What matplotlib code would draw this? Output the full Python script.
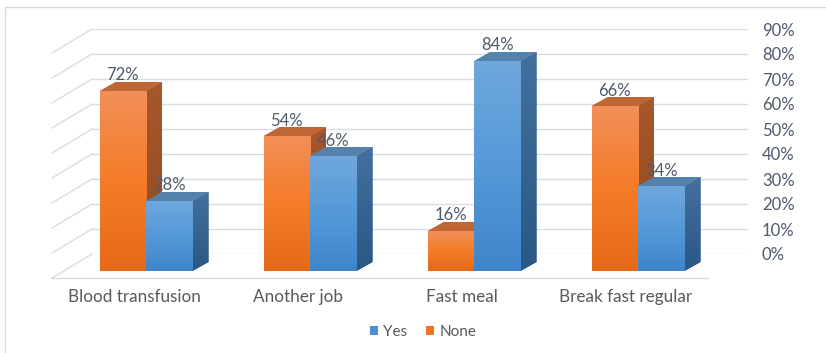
import numpy as np
import matplotlib
matplotlib.use("Agg")
import matplotlib.pyplot as plt
from matplotlib.patches import Rectangle, Polygon, Patch
from matplotlib.lines import Line2D
from matplotlib.transforms import ScaledTranslation
from matplotlib.colors import LinearSegmentedColormap

# ---- data ----
categories = ["Blood transfusion", "Another job", "Fast meal", "Break fast regular"]
none_vals = [72, 54, 16, 66]
yes_vals = [28, 46, 84, 34]
yticks = [0, 10, 20, 30, 40, 50, 60, 70, 80, 90]
series_names = ["Yes", "None"]

plt.rcParams['font.family'] = ['Lato', 'DejaVu Sans']
TXT = '#595959'
LBL = '#4F5A6B'

W, H = 826, 353
fig = plt.figure(figsize=(W / 100, H / 100), dpi=100)
fig.patch.set_facecolor('white')

def fx(px):
    return px / W

def fy(py_top):
    return (H - py_top) / H

# ---- back wall axes (gridlines + right tick labels) ----
bl, br, bb, bt = 92, 748, 254, 29
axb = fig.add_axes([fx(bl), fy(bb), fx(br - bl), (bb - bt) / H])
axb.set_xlim(0, 1)
axb.set_ylim(0, 90)
axb.set_yticks(yticks)
axb.set_yticklabels([f"{t}%" for t in yticks])
axb.yaxis.tick_right()
axb.tick_params(axis='y', length=0, pad=10, labelsize=12, labelcolor=LBL)
axb.set_xticks([])
axb.grid(axis='y', color='#D9DDE3', lw=1.0)
for s in axb.spines.values():
    s.set_visible(False)
axb.patch.set_alpha(0)

# ---- front axes (bars) ----
gc0, gsp = 146, 164  # group center px / spacing px
base_py = 271
axf = fig.add_axes([fx(gc0 - 0.5 * gsp), fy(base_py), fx(4 * gsp), (base_py - bt + 17) / H])
axf.set_xlim(-0.5, 3.5)
axf.set_ylim(0, (base_py - bt + 17) / 2.5)
axf.axis('off')
axf.patch.set_alpha(0)

fig.canvas.draw()

# diagonal (left wall) lines and floor front edge, in display pixels
ddx, ddy = -40, -24
for t in yticks:
    p = axb.transData.transform((0, t))
    fig.add_artist(Line2D([p[0], p[0] + ddx], [p[1], p[1] + ddy], transform=None,
                          color='#D9DDE3', lw=1.0))
p0 = axb.transData.transform((0, 0))
p1 = axb.transData.transform((1, 0))
fig.add_artist(Line2D([p0[0] + ddx, p1[0] + ddx], [p0[1] + ddy, p1[1] + ddy], transform=None,
                      color='#D9DDE3', lw=1.0))

# depth offset of bars, in data units
px_x = (axf.transData.transform((1, 0))[0] - axf.transData.transform((0, 0))[0])
px_y = (axf.transData.transform((0, 1))[1] - axf.transData.transform((0, 0))[1])
dx, dy = 16 / px_x, 9 / px_y

bw = 46.5 / gsp
orange = dict(cmap=LinearSegmentedColormap.from_list('o', ['#E56A18', '#F47C28', '#F28F58']),
              side=['#8E4A1F', '#A8582B'], top='#BF6734')
blue = dict(cmap=LinearSegmentedColormap.from_list('b', ['#3E85CA', '#5599D8', '#6FA7DD']),
            side=['#2A5885', '#43709C'], top='#5581AD')

grad = np.linspace(0, 1, 64).reshape(-1, 1)

def draw_bar(x0, v, st, z):
    x1 = x0 + bw
    side = Polygon([(x1, 0), (x1 + dx, dy), (x1 + dx, v + dy), (x1, v)], closed=True,
                   facecolor=st['side'][0], edgecolor='none', zorder=z)
    axf.add_patch(side)
    sg = axf.imshow(grad, cmap=LinearSegmentedColormap.from_list('s', st['side']),
                    extent=[x1, x1 + dx, 0, v + dy], origin='lower', aspect='auto', zorder=z)
    sg.set_clip_path(side)
    top = Polygon([(x0, v), (x0 + dx, v + dy), (x1 + dx, v + dy), (x1, v)], closed=True,
                  facecolor=st['top'], edgecolor='none', zorder=z)
    axf.add_patch(top)
    bars = axf.bar([x0], [v], width=bw, align='edge', color=st['cmap'](0.5), edgecolor='none',
                   zorder=z + 0.1)
    rect = bars[0]
    im = axf.imshow(grad, cmap=st['cmap'], extent=[x0, x1, 0, v], origin='lower',
                    aspect='auto', zorder=z + 0.2)
    im.set_clip_path(rect)
    axf.text(x0 + bw / 2, v + dy + 0.6, f"{v}%", ha='center', va='baseline',
             fontsize=12, color=LBL, zorder=50)

for i, (nv, yv) in enumerate(zip(none_vals, yes_vals)):
    draw_bar(i - bw, nv, orange, 2 + i)
    draw_bar(i, yv, blue, 2.5 + i)

axf.set_xlim(-0.5, 3.5)
axf.set_ylim(0, (base_py - bt + 17) / 2.5)

# category labels at front floor edge
for i, c in enumerate(categories):
    axf.text(i, 0, c, ha='center', va='center', fontsize=12.3, color=TXT,
             transform=axf.transData + ScaledTranslation(-12 / 100, -26 / 100, fig.dpi_scale_trans))

# legend
handles = [Patch(facecolor='#4A8FD3', edgecolor='none'), Patch(facecolor='#EE7424', edgecolor='none')]
fig.legend(handles, series_names, loc='center', bbox_to_anchor=(fx(423), fy(332)), ncol=2,
           frameon=False, fontsize=11, labelcolor=TXT, handlelength=0.55, handleheight=0.55,
           handletextpad=0.35, columnspacing=1.2)

# outer frame
fig.add_artist(Rectangle((fx(5), -0.1), 1.2, fy(7) + 0.1, transform=fig.transFigure,
                         fill=False, edgecolor='#D9D9D9', lw=1.0))

fig.savefig('out.png', dpi=100)
